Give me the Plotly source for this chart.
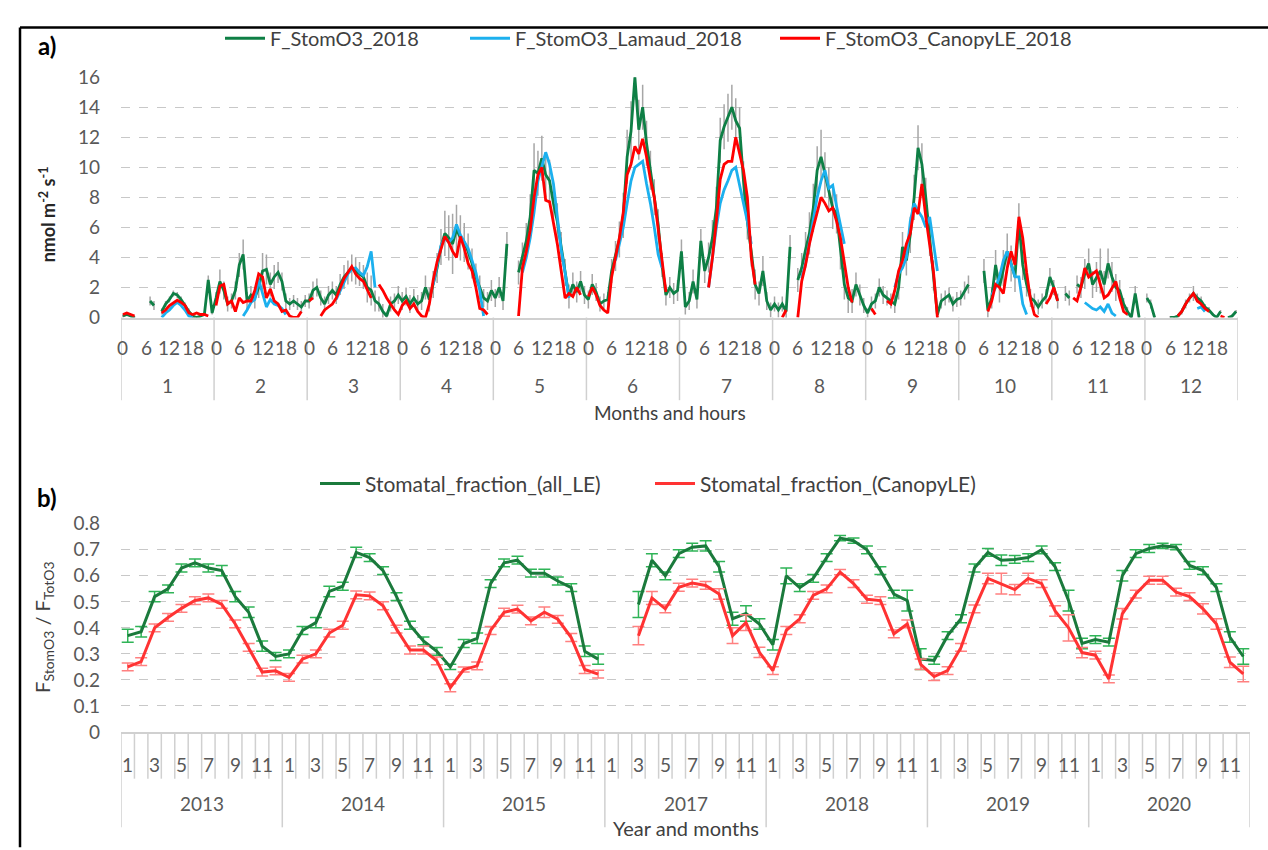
import plotly.graph_objects as go

# ---------------- Panel a data (hourly means per month, 0..23 h) ----------------
months_a = [str(m) for m in range(1, 13)]
hour_labels = ["0", "6", "12", "18"]
hour_label_pos = [0, 6, 12, 18]

green_a = {
    1: [0.1,0.2,0.1,0.0,None,None,None,1.1,0.8,None,0.4,0.9,1.2,1.6,1.5,1.2,0.8,0.4,0.1,0.0,0.1,0.2,2.5,0.3],
    2: [1.3,2.4,1.8,0.9,1.1,1.8,3.5,4.2,1.1,1.5,1.3,2.0,3.1,3.2,2.2,2.7,3.0,2.4,1.1,0.9,1.1,0.9,0.7,1.1],
    3: [1.1,1.8,2.0,1.3,0.9,1.5,1.8,1.5,2.2,2.7,3.0,3.3,3.1,2.9,2.7,2.0,1.8,1.1,0.9,0.4,0.1,0.9,1.1,1.5],
    4: [1.1,1.4,0.9,1.3,0.9,1.1,2.0,1.2,2.2,3.3,4.7,5.6,5.3,4.9,5.9,5.3,5.0,4.4,3.6,2.7,2.0,1.3,1.1,1.8],
    5: [1.3,2.0,1.1,4.9,None,None,3.0,4.0,5.1,6.7,9.8,9.6,10.6,9.5,9.1,7.6,6.4,4.7,3.0,1.4,2.2,1.7,2.4,1.5],
    6: [1.2,2.2,1.7,0.9,1.1,1.2,3.1,4.1,5.2,6.8,10.7,12.4,16.0,12.5,14.0,11.6,9.8,8.0,6.2,3.5,1.5,2.0,1.6,1.8],
    7: [4.4,0.7,1.1,2.4,1.2,5.1,3.1,4.0,5.3,7.3,11.8,12.7,13.3,14.0,13.1,12.6,9.1,6.4,4.4,2.2,1.6,3.1,1.1,0.5],
    8: [0.9,0.5,0.9,0.4,4.7,None,2.5,3.3,4.5,5.6,7.3,9.8,10.7,9.5,8.5,7.3,6.9,4.4,2.2,1.3,1.1,2.2,1.5,0.8],
    9: [0.3,0.9,1.1,2.0,1.5,1.3,1.1,0.9,2.0,4.7,3.8,5.5,8.0,11.3,10.2,8.0,5.3,2.8,0.2,1.1,1.3,1.5,0.9,1.2],
    10: [1.3,1.8,2.2,None,None,None,3.1,0.5,1.3,3.5,2.0,3.3,4.4,3.6,2.7,6.4,3.5,2.2,1.3,1.1,0.7,1.1,1.4,2.7],
    11: [2.0,1.1,None,1.6,1.3,None,2.2,2.0,2.9,3.6,2.2,2.7,3.1,2.2,3.6,2.7,2.0,1.8,0.9,0.4,0.0,1.6,0.0,None],
    12: [1.3,0.9,0.0,None,None,None,0.0,0.0,0.1,0.4,0.9,1.3,1.6,1.3,1.1,0.7,0.5,0.2,0.0,0.4,None,0.0,0.1,0.4],
}
blue_a = {
    1: [None]*10 + [0.0,0.3,0.5,0.8,1.0,0.8,0.5,0.1,0.0] + [None]*5,
    2: [None]*7 + [0.1,0.5,1.0,1.2,2.5,1.6,0.7,1.2,0.9,0.8,0.6,0.2] + [None]*5,
    3: [None]*7 + [1.2,1.8,2.4,2.9,3.2,3.3,3.0,2.8,3.4,4.4,2.0] + [None]*6,
    4: [None]*8 + [2.2,3.5,4.8,5.3,5.0,5.3,6.2,5.5,5.0,4.6,3.8,3.0,1.8,0.1] + [None]*2,
    5: [None]*7 + [3.0,4.0,5.3,7.0,9.1,10.0,11.0,10.2,8.9,6.7,4.5,3.0,1.3] + [None]*4,
    6: [None]*7 + [3.8,4.8,6.0,7.6,9.1,10.0,10.2,10.4,8.9,7.6,6.0,4.2,3.3] + [None]*4,
    7: [None]*7 + [2.0,4.0,6.0,7.6,8.5,9.1,9.8,10.0,8.7,7.6,6.4,4.9] + [None]*5,
    8: [None]*7 + [2.6,3.6,5.0,6.5,8.0,9.1,9.8,8.6,8.8,7.4,6.2,4.9] + [None]*5,
    9: [None]*7 + [2.0,2.9,3.3,4.0,6.4,7.6,7.1,6.7,6.0,6.7,4.9,3.1] + [None]*5,
    10: [None]*8 + [1.5,2.0,2.7,3.8,4.4,3.6,2.7,2.7,0.9,0.2] + [None]*6,
    11: [None]*8 + [1.0,0.8,0.6,0.5,0.7,0.4,0.9,0.3,0.1] + [None]*7,
    12: [None]*13 + [0.6,0.7,0.4] + [None]*8,
}
red_a = {
    1: [0.2,0.3,0.2,0.1,None,None,None,None,None,None,0.3,0.5,0.8,1.0,1.15,1.0,0.8,0.3,0.2,0.3,0.2,0.2,0.1,None],
    2: [0.8,2.1,2.2,0.9,1.1,0.4,1.3,1.0,1.1,1.1,1.8,2.9,2.7,1.3,1.9,1.1,0.9,0.4,0.5,0.1,0.0,0.0,0.4,None],
    3: [1.1,1.3,None,0.1,0.5,0.7,0.9,1.3,2.0,2.6,3.0,3.4,2.9,2.6,2.4,1.8,1.3,None,2.2,1.8,1.3,0.9,0.5,0.2],
    4: [0.8,1.1,0.6,0.9,0.4,0.1,0.0,0.9,2.5,3.7,4.5,5.4,5.0,4.4,4.0,5.4,4.6,3.6,3.1,2.0,0.6,0.5,0.2,None],
    5: [None,None,None,None,1.5,None,0.1,3.3,4.4,5.8,8.0,9.5,10.0,7.8,7.7,6.4,4.9,3.1,1.3,1.6,1.4,2.0,1.5,None],
    6: [1.4,2.0,1.5,0.8,0.5,0.3,2.7,4.0,5.3,7.0,9.5,10.2,11.4,10.9,11.9,10.7,9.2,8.0,6.0,3.8,1.7,None,None,None],
    7: [None,None,None,None,None,None,None,2.0,4.0,6.4,9.2,10.2,10.4,10.4,12.0,10.9,9.8,8.0,4.0,2.2,None,None,None,None],
    8: [None,None,0.0,0.5,None,None,0.0,2.4,3.5,4.9,6.0,7.1,8.0,7.6,7.1,7.3,6.4,5.3,3.6,2.0,1.0,None,None,None],
    9: [None,0.6,0.2,None,None,1.1,0.9,1.8,3.1,3.8,4.9,5.6,7.3,6.9,8.9,6.7,4.9,3.0,0.0,None,None,None,None,None],
    10: [None,None,None,None,None,None,None,0.4,1.1,2.2,2.0,1.6,3.3,4.4,3.5,6.7,5.3,3.0,1.2,0.2,0.0,None,0.9,1.3],
    11: [2.0,1.1,None,1.3,None,1.3,1.1,2.0,3.3,2.7,2.9,3.1,2.2,1.3,1.5,2.0,2.4,1.3,0.4,0.2,None,None,None,None],
    12: [None,None,None,None,None,None,None,None,0.1,0.4,0.9,1.3,1.6,1.1,0.9,0.6,0.4,None,None,0.1,0.0,None,0.1,None],
}
err_a = {
    1: [0.1,0.1,0.1,0.1,0,0,0,0.3,0.3,0,0.2,0.2,0.2,0.2,0.2,0.2,0.2,0.2,0.1,0.1,0.1,0.1,0.3,0.1],
    2: [0.4,0.8,0.6,0.5,0.5,0.6,0.8,1.0,0.6,0.6,0.7,0.7,1.2,1.0,0.8,0.8,0.7,0.6,0.5,0.4,0.4,0.4,0.4,0.4],
    3: [0.5,0.6,0.6,0.5,0.5,0.6,0.6,0.6,0.7,0.8,0.8,0.9,0.9,0.8,0.8,1.0,1.0,0.7,0.5,0.5,0.3,0.5,0.5,0.6],
    4: [0.6,0.6,0.6,0.6,0.6,0.6,0.8,0.8,0.9,1.0,1.2,1.5,1.5,2.0,1.6,1.5,1.3,1.2,1.0,0.9,0.8,0.6,0.6,0.7],
    5: [0.6,0.7,0.6,0.8,0,0,0.8,1.0,1.2,1.5,1.8,1.5,1.5,1.5,1.4,1.2,1.2,1.0,0.9,0.8,0.8,0.7,0.7,0.6],
    6: [0.6,0.7,0.6,0.5,0.5,0.5,0.8,1.0,1.2,1.5,1.8,2.0,1.5,2.0,1.5,1.5,1.3,1.2,1.0,0.8,0.7,0.7,0.7,0.7],
    7: [0.8,0.5,0.6,0.8,0.6,0.8,0.8,1.0,1.2,1.4,1.5,1.5,1.6,1.5,1.5,1.4,1.3,1.2,1.0,1.0,0.8,1.0,0.6,0.5],
    8: [0.5,0.5,0.5,0.5,0.8,0,0.8,1.0,1.2,1.4,1.6,1.6,1.8,1.5,1.5,1.4,1.3,1.2,1.0,1.0,0.8,0.8,0.7,0.5],
    9: [0.3,0.5,0.5,0.6,0.6,0.5,0.5,0.6,0.8,1.0,1.0,1.2,1.5,1.5,1.4,1.3,1.2,1.0,0.5,0.5,0.5,0.5,0.5,0.5],
    10: [0.5,0.6,0.6,0,0,0,0.8,0.5,0.7,1.0,1.0,1.2,1.2,1.2,1.0,1.2,1.0,0.8,0.6,0.5,0.5,0.5,0.5,0.6],
    11: [0.5,0.5,0,0.5,0.5,0,0.6,0.7,1.0,1.0,0.9,1.0,1.5,0.9,1.0,1.0,0.9,0.7,0.4,0.3,0.2,0.5,0.2,0],
    12: [0.3,0.3,0.1,0,0,0,0.1,0.1,0.1,0.2,0.3,0.3,0.5,0.3,0.3,0.2,0.2,0.1,0.1,0.1,0,0.1,0.1,0.1],
}

# ---------------- Panel b data (monthly stomatal fractions) ----------------
years_b = ["2013", "2014", "2015", "2017", "2018", "2019", "2020"]
month_labels_b = ["1", "3", "5", "7", "9", "11"]
frac_all_le = {
    "2013": [0.37,0.385,0.52,0.55,0.63,0.65,0.63,0.62,0.52,0.46,0.33,0.29],
    "2014": [0.30,0.39,0.42,0.54,0.56,0.69,0.67,0.62,0.52,0.41,0.35,0.31],
    "2015": [0.25,0.34,0.36,0.57,0.65,0.66,0.61,0.61,0.58,0.555,0.31,0.28],
    "2017": [None,None,0.49,0.66,0.60,0.685,0.71,0.715,0.635,0.435,0.455,0.415],
    "2018": [0.335,0.60,0.555,0.59,0.67,0.745,0.735,0.70,0.62,0.53,0.505,0.28],
    "2019": [0.275,0.37,0.435,0.63,0.69,0.66,0.663,0.67,0.70,0.635,0.505,0.34],
    "2020": [0.355,0.345,0.60,0.685,0.705,0.715,0.71,0.64,0.62,0.555,0.365,0.29],
}
frac_all_le_err = {
    "2013": [0.025,0.02,0.02,0.015,0.015,0.015,0.015,0.02,0.02,0.02,0.02,0.015],
    "2014": [0.015,0.015,0.02,0.02,0.015,0.02,0.015,0.015,0.015,0.015,0.015,0.015],
    "2015": [0.01,0.015,0.02,0.015,0.015,0.015,0.015,0.015,0.015,0.015,0.02,0.02],
    "2017": [0,0,0.05,0.025,0.015,0.015,0.015,0.02,0.02,0.025,0.03,0.02],
    "2018": [0.02,0.03,0.015,0.015,0.015,0.01,0.01,0.015,0.015,0.015,0.04,0.04],
    "2019": [0.015,0.015,0.015,0.015,0.015,0.02,0.015,0.015,0.015,0.015,0.04,0.02],
    "2020": [0.015,0.015,0.02,0.015,0.015,0.01,0.01,0.015,0.015,0.015,0.02,0.03],
}
frac_canopy = {
    "2013": [0.25,0.27,0.40,0.44,0.475,0.505,0.515,0.49,0.415,0.325,0.23,0.235],
    "2014": [0.21,0.28,0.30,0.38,0.41,0.527,0.523,0.485,0.395,0.315,0.315,0.273],
    "2015": [0.17,0.24,0.254,0.39,0.46,0.472,0.427,0.46,0.433,0.363,0.24,0.222],
    "2017": [None,None,0.37,0.515,0.473,0.556,0.572,0.563,0.53,0.37,0.42,0.306],
    "2018": [0.236,0.39,0.435,0.525,0.55,0.614,0.57,0.51,0.505,0.377,0.415,0.26],
    "2019": [0.213,0.236,0.325,0.473,0.59,0.57,0.547,0.59,0.57,0.465,0.40,0.305],
    "2020": [0.295,0.204,0.454,0.53,0.583,0.583,0.537,0.52,0.473,0.415,0.268,0.223],
}
frac_canopy_err = {
    "2013": [0.015]*12,
    "2014": [0.015]*12,
    "2015": [0.015,0.01,0.015,0.015,0.015,0.015,0.015,0.02,0.015,0.015,0.015,0.015],
    "2017": [0,0,0.035,0.025,0.015,0.015,0.015,0.015,0.02,0.03,0.03,0.02],
    "2018": [0.015,0.015,0.015,0.015,0.015,0.01,0.015,0.015,0.015,0.015,0.015,0.02],
    "2019": [0.015,0.015,0.015,0.015,0.02,0.04,0.02,0.02,0.015,0.02,0.05,0.02],
    "2020": [0.015,0.015,0.02,0.015,0.015,0.015,0.015,0.015,0.02,0.02,0.02,0.03],
}

# ---------------- build flat series ----------------
def flat(d, keys):
    out = []
    for k in keys:
        out.extend(d[k])
    return out

mkeys = list(range(1, 13))
xa = list(range(24 * 12))
ga, ba, ra, ea = flat(green_a, mkeys), flat(blue_a, mkeys), flat(red_a, mkeys), flat(err_a, mkeys)
xb = list(range(12 * len(years_b)))
gb, gbe = flat(frac_all_le, years_b), flat(frac_all_le_err, years_b)
rb, rbe = flat(frac_canopy, years_b), flat(frac_canopy_err, years_b)

W, H = 1268, 850
def px(x): return x / W
def py(y): return 1 - y / H

FONT = "Lato"
TXT = "#595959"
DARK = "#404040"
GREEN_A = "#0e7f45"
BLUE_A = "#1cb0ee"
RED_A = "#ff0000"
GREEN_B = "#1b7a3c"
RED_B = "#ff3333"

fig = go.Figure()
# gray error bars (behind lines)
fig.add_trace(go.Scatter(x=xa, y=ga, mode="markers", marker=dict(color="rgba(0,0,0,0)", size=1),
                         error_y=dict(type="data", array=ea, color="#a6a6a6", thickness=1.5, width=0),
                         showlegend=False, hoverinfo="skip", xaxis="x", yaxis="y"))
fig.add_trace(go.Scatter(x=xa, y=ga, mode="lines", name="F_StomO3_2018",
                         line=dict(color=GREEN_A, width=2.8), xaxis="x", yaxis="y", legend="legend"))
fig.add_trace(go.Scatter(x=xa, y=ba, mode="lines", name="F_StomO3_Lamaud_2018",
                         line=dict(color=BLUE_A, width=2.8), xaxis="x", yaxis="y", legend="legend3"))
fig.add_trace(go.Scatter(x=xa, y=ra, mode="lines", name="F_StomO3_CanopyLE_2018",
                         line=dict(color=RED_A, width=2.8), xaxis="x", yaxis="y", legend="legend4"))

fig.add_trace(go.Scatter(x=xb, y=gb, mode="lines", name="Stomatal_fraction_(all_LE)",
                         line=dict(color=GREEN_B, width=3),
                         error_y=dict(type="data", array=gbe, color="#2fb457", thickness=1.5, width=6),
                         xaxis="x2", yaxis="y2", legend="legend2"))
fig.add_trace(go.Scatter(x=xb, y=rb, mode="lines", name="Stomatal_fraction_(CanopyLE)",
                         line=dict(color=RED_B, width=3),
                         error_y=dict(type="data", array=rbe, color="#ff8080", thickness=1.5, width=6),
                         xaxis="x2", yaxis="y2", legend="legend5"))

# plot-area geometry (pixels)
A_L, A_R, A_T, A_B = 121, 1238, 67, 314
B_L, B_R, B_T, B_B = 121, 1250, 526, 740

axis_common = dict(showgrid=False, zeroline=False, showticklabels=False, ticks="",
                   showline=True, linecolor="#d0d0d0", linewidth=1.5)
yaxis_common = dict(showgrid=True, gridcolor="#c8c8c8", griddash="dash", gridwidth=1,
                    zeroline=False, showline=False, ticks="",
                    tickfont=dict(family=FONT, size=19, color=TXT), ticklabelstandoff=20)

shapes, annotations = [], []

def note(x, y, text, xref="paper", size=19, color=TXT, **kw):
    annotations.append(dict(x=x, y=y, xref=xref, yref="paper", text=text, showarrow=False,
                            xanchor="center", yanchor="middle",
                            font=dict(family=FONT, size=size, color=color), **kw))

# frame
shapes.append(dict(type="line", xref="paper", yref="paper", x0=px(20), x1=1.01, y0=py(16), y1=py(16),
                   line=dict(color="black", width=2.5)))
shapes.append(dict(type="line", xref="paper", yref="paper", x0=px(20), x1=px(20), y0=py(16), y1=-0.01,
                   line=dict(color="black", width=2.5)))

# panel a category axis
for k in range(13):
    shapes.append(dict(type="line", xref="x", yref="paper", x0=24 * k - 0.5, x1=24 * k - 0.5,
                       y0=py(A_B), y1=py(399), line=dict(color="#d0d0d0", width=1.5)))
for mi, m in enumerate(months_a):
    for lab, pos in zip(hour_labels, hour_label_pos):
        note(24 * mi + pos, py(345), lab, xref="x")
    note(24 * mi + 11.5, py(384), m, xref="x")
note(px(670), py(412), "Months and hours", color=DARK)

# panel b category axis
for k in range(len(xb) + 1):
    long = (k % 12 == 0)
    shapes.append(dict(type="line", xref="x2", yref="paper", x0=k - 0.5, x1=k - 0.5,
                       y0=py(B_B), y1=py(838 if long else 788), line=dict(color="#d0d0d0", width=1.5)))
for yi, yr in enumerate(years_b):
    for lab in month_labels_b:
        note(12 * yi + int(lab) - 1, py(773), lab, xref="x2")
    note(12 * yi + 5.5, py(813), yr, xref="x2")
note(px(686), py(839), "Year and months", size=20, color=DARK)

# axis titles & panel letters
note(px(48), py(208), "<b>nmol m<sup>-2</sup> s<sup>-1</sup></b>", size=18, color="#262626", textangle=-90)
note(px(44), py(632), "F<sub>StomO3</sub> / F<sub>TotO3</sub>", size=20, color=DARK, textangle=-90)
note(px(47), py(34), "<b>a)</b>", size=24, color="black")
note(px(47), py(499), "<b>b)</b>", size=24, color="black")

def leg(xpix, ypix, size=20):
    return dict(orientation="h", x=px(xpix), xanchor="left", y=py(ypix), yanchor="middle",
                font=dict(family=FONT, size=size, color=DARK), itemwidth=40,
                bgcolor="rgba(0,0,0,0)", borderwidth=0)

fig.update_layout(
    width=W, height=H, margin=dict(l=0, r=0, t=0, b=0),
    paper_bgcolor="white", plot_bgcolor="white",
    xaxis=dict(domain=[px(A_L), px(A_R)], range=[-0.5, 287.5], anchor="y", **axis_common),
    yaxis=dict(domain=[py(A_B), py(A_T)], range=[0, 16], tickvals=list(range(0, 17, 2)),
               anchor="x", **yaxis_common),
    xaxis2=dict(domain=[px(B_L), px(B_R)], range=[-0.5, len(xb) - 0.5], anchor="y2", **axis_common),
    yaxis2=dict(domain=[py(B_B), py(B_T)], range=[0, 0.8], tickvals=[i / 10 for i in range(9)],
                ticktext=["0", "0.1", "0.2", "0.3", "0.4", "0.5", "0.6", "0.7", "0.8"],
                anchor="x2", **yaxis_common),
    legend=leg(220, 27), legend3=leg(465, 27), legend4=leg(775, 27),
    legend2=leg(315, 485, 21), legend5=leg(650, 485, 21),
    shapes=shapes, annotations=annotations, showlegend=True,
)

fig.write_html("out.html")
